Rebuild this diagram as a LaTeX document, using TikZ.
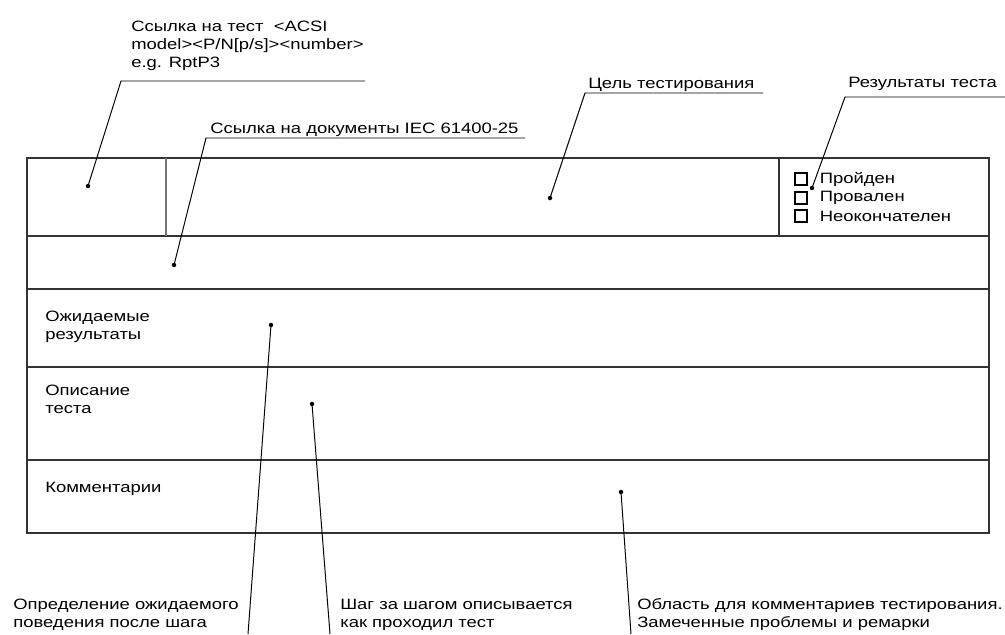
\documentclass[tikz,border=0pt]{standalone}
\usepackage{fontspec}
\setmainfont[FakeStretch=1.23]{Liberation Sans}
\usetikzlibrary{positioning}

\begin{document}
\begin{tikzpicture}[
    x=0.025cm, y=-0.025cm,
    node distance=0.3cm,
    % text labels (base = baseline of the last line)
    lbl/.style={inner sep=0pt, anchor=base west, align=left, font=\fontsize{10.67}{12.8}\selectfont},
    % table lines
    frame/.style={line width=1.3pt, draw=black!80},
    % leader lines and their end dots
    leader/.style={line width=0.7pt, draw=black},
    dot/.style={circle, fill=black, inner sep=0pt, minimum size=3.2pt},
    cbox/.style={rectangle, draw=black, line width=1.1pt, inner sep=0pt, minimum size=8.2pt}
]
\useasboundingbox (0,0) rectangle (1005,634);

% Table
\draw [frame] (27,158) rectangle (989,533);
\draw [frame] (27,236) -- (989,236);
\draw [frame] (27,289) -- (989,289);
\draw [frame] (27,367) -- (989,367);
\draw [frame] (27,460) -- (989,460);
\draw [frame, draw=black!55, line width=1.6pt] (166,158) -- (166,236);
\draw [frame] (779,158) -- (779,236);

% Row titles
\node (expres) [lbl] at (45,339) {Ожидаемые\\результаты};
\node (desc) [lbl] at (45,413) {Описание\\теста};
\node (comm) [lbl] at (45,492) {Комментарии};

% Check boxes
\node (cb1) [cbox] at (801,179) {};
\node (cb2) [cbox] at (801,198) {};
\node (cb3) [cbox] at (801,216) {};
\node (pass) [lbl, right=0.3cm of cb1] {Пройден};
\node (fail) [lbl, right=0.3cm of cb2] {Провален};
\node (inconc) [lbl, right=0.3cm of cb3] {Неокончателен};

% Callout texts
\node (reftest) [lbl] at (131,67) {Ссылка на тест~ <ACSI\\model><P/N[p/s]><number>\\e.g. RptP3};
\node (refdoc) [lbl] at (210,133) {Ссылка на документы IEC 61400-25};
\node (goal) [lbl] at (588,88) {Цель тестирования};
\node (result) [lbl] at (848,87) {Результаты теста};
\node (expdef) [lbl] at (13,627) {Определение ожидаемого\\поведения после шага};
\node (stepdesc) [lbl] at (340,627) {Шаг за шагом описывается\\как проходил тест};
\node (commarea) [lbl] at (637,627) {Область для комментариев тестирования.\\Замеченные проблемы и ремарки};

% Dots
\node (d1) [dot] at (88,186) {};
\node (d2) [dot] at (174,265) {};
\node (d3) [dot] at (550,198) {};
\node (d4) [dot] at (812,188) {};
\node (d5) [dot] at (271,325) {};
\node (d6) [dot] at (312,404) {};
\node (d7) [dot] at (621,492) {};

% Knees and free ends
\coordinate (k1) at (121,81);  \coordinate (e1) at (365,81);
\coordinate (k2) at (206,138); \coordinate (e2) at (525,138);
\coordinate (k3) at (585,93);  \coordinate (e3) at (763,93);
\coordinate (k4) at (845,97);  \coordinate (e4) at (1005,97);
\coordinate (e5) at (248,634);
\coordinate (e6) at (330,634);
\coordinate (e7) at (631,634);

% Leader lines
\draw [leader] (d1.center) -- (k1) -- (e1);
\draw [leader] (d2.center) -- (k2) -- (e2);
\draw [leader] (d3.center) -- (k3) -- (e3);
\draw [leader] (d4.center) -- (k4) -- (e4);
\draw [leader] (d5.center) -- (e5);
\draw [leader] (d6.center) -- (e6);
\draw [leader] (d7.center) -- (e7);

\end{tikzpicture}
\end{document}
